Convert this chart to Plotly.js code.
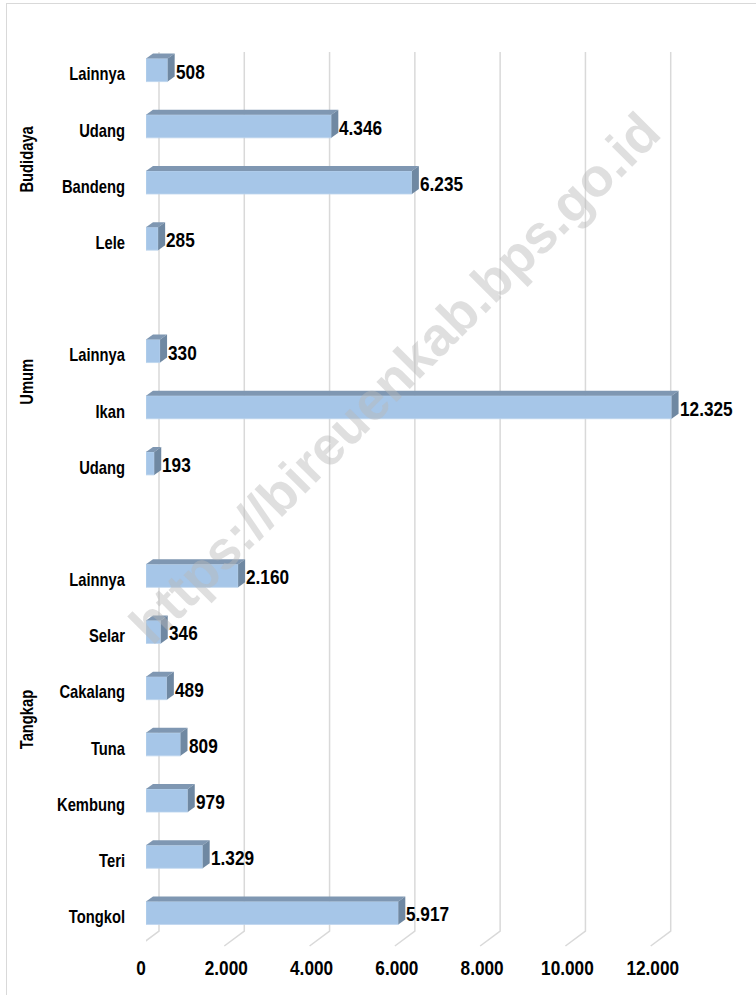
<!DOCTYPE html>
<html>
<head>
<meta charset="utf-8">
<script src="https://cdn.plot.ly/plotly-3.0.1.min.js"></script>
<style>
  html, body { margin: 0; padding: 0; background: #ffffff; }
  #frame { position: absolute; left: 6px; top: 3px; width: 900px; height: 1100px;
           border-left: 1px solid #d9d9d9; border-top: 1px solid #d9d9d9; }
  #chart { position: absolute; left: 0; top: 0; width: 756px; height: 995px; }
  #wrap { position: relative; width: 756px; height: 995px; overflow: hidden; }
</style>
</head>
<body>
<div id="wrap"><div id="frame"></div><div id="chart"></div></div>
<script>
// ---- data ----
const groupNames = ['Budidaya', 'Umum', 'Tangkap'];
const budidayaCats = ['Lainnya', 'Udang', 'Bandeng', 'Lele'];
const budidayaVals = [508, 4346, 6235, 285];
const umumCats = ['Lainnya', 'Ikan', 'Udang'];
const umumVals = [330, 12325, 193];
const tangkapCats = ['Lainnya', 'Selar', 'Cakalang', 'Tuna', 'Kembung', 'Teri', 'Tongkol'];
const tangkapVals = [2160, 346, 489, 809, 979, 1329, 5917];
const xTickVals = [0, 2000, 4000, 6000, 8000, 10000, 12000];
const xTickText = ['0', '2.000', '4.000', '6.000', '8.000', '10.000', '12.000'];
const watermark = 'https://bireuenkab.bps.go.id';

// ---- layout constants ----
const FIG_W = 756, FIG_H = 995;
const M = { l: 146, r: 13, t: 42, b: 54 };
const plotW = FIG_W - M.l - M.r, plotH = FIG_H - M.t - M.b;
const X_MAX = 14000;
const pxPerUnit = plotW / X_MAX;
const BAR_W = 0.41;
const DEPTH_X = 7, DEPTH_Y = 5;       // bar 3D depth (px)
const WALL_X = 13, WALL_Y = 10;       // back wall offset (px)
const FLOOR_X = -7, FLOOR_Y = -5;     // front floor edge (px)
const FONT = '"Liberation Sans", Arial, sans-serif';
const NARROW_SCALE = 0.82;            // emulate Arial Narrow

function fmt(v) { return String(v).replace(/\B(?=(\d{3})+(?!\d))/g, '.'); }

// build slots (with one blank slot between groups)
const groupCats = [budidayaCats, umumCats, tangkapCats];
const groupVals = [budidayaVals, umumVals, tangkapVals];
const ys = [], xs = [], labels = [], groupCenters = [];
let slot = 0;
groupCats.forEach((cats, g) => {
  const start = slot;
  cats.forEach((c, i) => { ys.push(slot); xs.push(groupVals[g][i]); labels.push(c); slot++; });
  groupCenters.push((start + slot - 1) / 2);
  if (g < groupCats.length - 1) slot++;
});
const nSlots = slot;
const slotPx = plotH / nSlots;
const halfPx = BAR_W * slotPx / 2;
const dData = DEPTH_X / pxPerUnit;

const shapes = [];
// back-wall gridlines + floor edges
xTickVals.forEach(v => {
  shapes.push({
    type: 'path', layer: 'below',
    xref: 'x', xsizemode: 'pixel', xanchor: v,
    yref: 'paper', ysizemode: 'pixel', yanchor: 0,
    path: `M${WALL_X},${plotH - WALL_Y} L${WALL_X},${WALL_Y} L${FLOOR_X},${FLOOR_Y}`,
    line: { color: '#d9d9d9', width: 1.5 }
  });
});
// 3D faces
xs.forEach((v, i) => {
  const y = ys[i];
  shapes.push({
    type: 'path', layer: 'above',
    xref: 'x', yref: 'y', ysizemode: 'pixel', yanchor: y,
    path: `M0,${halfPx} L${v},${halfPx} L${v + dData},${halfPx + DEPTH_Y} L${dData},${halfPx + DEPTH_Y} Z`,
    fillcolor: '#7f97b2', line: { width: 0 }
  });
  shapes.push({
    type: 'path', layer: 'above',
    xref: 'x', xsizemode: 'pixel', xanchor: v,
    yref: 'y', ysizemode: 'pixel', yanchor: y,
    path: `M0,${-halfPx} L0,${halfPx} L${DEPTH_X},${halfPx + DEPTH_Y} L${DEPTH_X},${-halfPx + DEPTH_Y} Z`,
    fillcolor: '#6f88a2', line: { width: 0 }
  });
});

const annotations = [];
annotations.push({
  x: (394 - M.l) / plotW, y: 1 - (378 - M.t) / plotH, xref: 'paper', yref: 'paper',
  text: watermark, showarrow: false, textangle: -45,
  font: { family: FONT, size: 54, weight: 700, color: 'rgba(185,185,185,0.45)' }
});
xs.forEach((v, i) => {
  annotations.push({
    x: v, y: ys[i], xref: 'x', yref: 'y', text: fmt(v), showarrow: false, align: 'left',
    xanchor: 'left', yanchor: 'middle', xshift: 6, yshift: -1,
    font: { family: FONT, size: 21, weight: 700, color: '#000000' }
  });
});
const groupShift = [-5, 25, 25];
groupNames.forEach((gname, g) => {
  annotations.push({
    x: 0, xref: 'paper', y: groupCenters[g], yref: 'y', text: gname, showarrow: false,
    textangle: -90, xanchor: 'center', yanchor: 'middle', xshift: 27.5 - M.l, yshift: groupShift[g],
    font: { family: FONT, size: 18, weight: 700, color: '#000000' }
  });
});

const trace = {
  type: 'bar', orientation: 'h', x: xs, y: ys, width: BAR_W,
  marker: { color: '#a6c6e8', line: { width: 0.8, color: '#bcd4ee' } },
  hoverinfo: 'skip', showlegend: false
};

const layout = {
  width: FIG_W, height: FIG_H, margin: M,
  paper_bgcolor: 'rgba(0,0,0,0)', plot_bgcolor: 'rgba(0,0,0,0)',
  showlegend: false,
  xaxis: {
    range: [0, X_MAX], autorange: false, tickvals: xTickVals, ticktext: xTickText,
    showgrid: false, zeroline: false, showline: false, ticks: '',
    ticklabelshift: -5, ticklabelstandoff: 12,
    tickfont: { family: FONT, size: 21, weight: 700, color: '#000000' }
  },
  yaxis: {
    range: [nSlots - 0.5, -0.5], autorange: false, tickvals: ys, ticktext: labels,
    showgrid: false, zeroline: false, showline: false, ticks: '',
    ticklabelstandoff: 20, ticklabelshift: -4,
    tickfont: { family: FONT, size: 18, weight: 700, color: '#000000' }
  },
  shapes: shapes, annotations: annotations
};

Plotly.newPlot('chart', [trace], layout, { displayModeBar: false, staticPlot: true }).then(gd => {
  // condense text horizontally around its anchor point (Arial Narrow look)
  gd.querySelectorAll('.xtick text, .ytick text, .annotation-text').forEach(t => {
    if (t.textContent === watermark) return;
    const x = parseFloat(t.getAttribute('x')) || 0;
    const tr = t.getAttribute('transform') || '';
    t.setAttribute('transform', `${tr} translate(${x},0) scale(${NARROW_SCALE},1) translate(${-x},0)`);
  });
});
</script>
</body>
</html>
